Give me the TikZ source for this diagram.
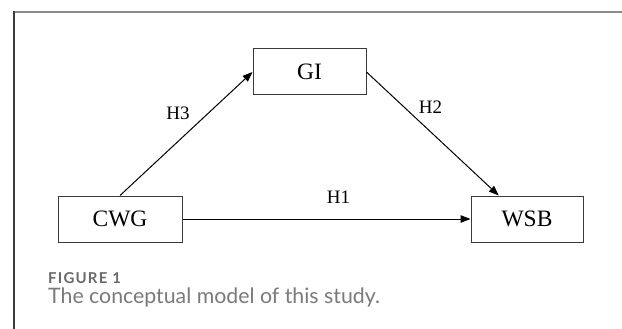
\documentclass[tikz,border=0pt]{standalone}
\usepackage{fontspec}
\usetikzlibrary{arrows.meta,calc}
\newfontfamily\tmsfont{Liberation Serif}
\newfontfamily\capfont{Lato}
\definecolor{boxline}{HTML}{3A3A3A}
\definecolor{frametop}{HTML}{8C8C8C}
\definecolor{frameleft}{HTML}{3C3C3C}
\definecolor{figlabel}{HTML}{6A6A6A}
\definecolor{captext}{HTML}{7A7A7A}
\tikzset{
  varbox/.style={draw=boxline, line width=1pt, inner sep=0pt, minimum height=46pt, font=\tmsfont\fontsize{23.5}{26}\selectfont},
  hyplabel/.style={inner sep=0pt, font=\tmsfont\fontsize{19}{21}\selectfont},
  conn/.style={line width=1pt, -{Triangle[length=10pt,width=7.5pt]}},
}
\begin{document}
\begin{tikzpicture}[x=1pt,y=-1pt]
\useasboundingbox (0,0) rectangle (622,329);
\fill[white] (0,0) rectangle (622,329);
% frame
\draw[frametop, line width=2pt] (13,12) -- (622,12);
\draw[frameleft, line width=2pt] (14,11) -- (14,329);
% boxes
\node[varbox, minimum width=113pt] (GI) at (309.5,72) {GI};
\node[varbox, minimum width=124pt] (CWG) at (120,219) {CWG};
\node[varbox, minimum width=112pt] (WSB) at (527,219) {WSB};
% connectors
\coordinate (WSBin) at ($(WSB.north west)!0.25!(WSB.north east)$);
\draw[conn] (CWG.north) -- (GI.west);
\draw[conn] (GI.east) -- (WSBin);
\draw[conn] (CWG.east) -- (WSB.west);
% labels
\node[hyplabel] (H3) at (178,113) {H3};
\node[hyplabel] (H2) at (430.5,107) {H2};
\node[hyplabel] (H1) at (338.5,197) {H1};
% caption
\node[anchor=base west, inner sep=0pt, text=figlabel, font=\capfont\bfseries\fontsize{15}{17}\selectfont\addfontfeatures{LetterSpace=8}] (figno) at (48,283.5) {FIGURE 1};
\node[anchor=base west, inner sep=0pt, text=captext, font=\capfont\fontsize{21.3}{23}\selectfont] (cap) at (48,303) {The conceptual model of this study.};
\end{tikzpicture}
\end{document}
